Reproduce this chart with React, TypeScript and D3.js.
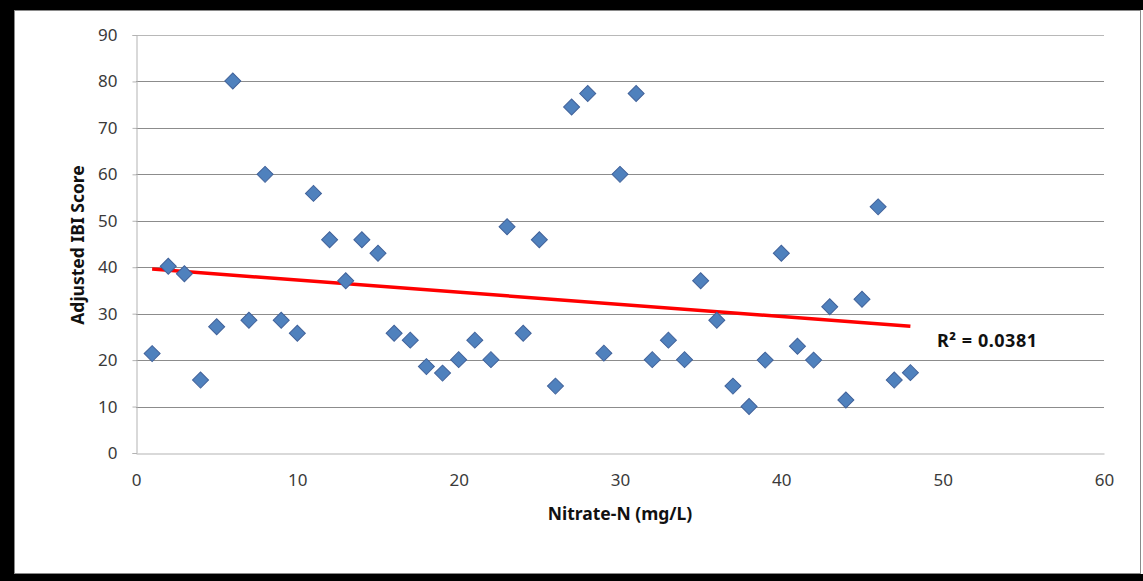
import React, { useEffect, useRef } from 'react';
import * as d3 from 'd3';

// sample index (Nitrate-N axis) and adjusted IBI score
const nitrate = [
  1, 2, 3, 4, 5, 6, 7, 8, 9, 10, 11, 12, 13, 14, 15, 16,
  17, 18, 19, 20, 21, 22, 23, 24, 25, 26, 27, 28, 29, 30, 31, 32,
  33, 34, 35, 36, 37, 38, 39, 40, 41, 42, 43, 44, 45, 46, 47, 48,
];
const ibiScore = [
  21.4, 40.2, 38.6, 15.7, 27.2, 80.1, 28.6, 60.0, 28.6, 25.8, 55.9, 45.9, 37.1, 45.9, 43.0, 25.8,
  24.3, 18.6, 17.2, 20.1, 24.3, 20.1, 48.7, 25.8, 45.9, 14.4, 74.5, 77.4, 21.5, 60.0, 77.4, 20.1,
  24.3, 20.1, 37.1, 28.6, 14.4, 10.0, 20.0, 43.0, 23.0, 20.0, 31.5, 11.4, 33.1, 53.0, 15.7, 17.3,
];
// linear trend line endpoints as drawn
const trendX = [1, 48];
const trendY = [39.6, 27.3];
const xTicks = [0, 10, 20, 30, 40, 50, 60];
const yTicks = [0, 10, 20, 30, 40, 50, 60, 70, 80, 90];
const rSquared = 'R² = 0.0381';

const W = 1143;
const H = 581;
const PLOT = { left: 136, right: 1104, top: 35, bottom: 453 };
const FONT = '"Noto Sans", "Open Sans", sans-serif';

const App: React.FC = () => {
  const svgRef = useRef<SVGSVGElement>(null);

  useEffect(() => {
    if (!svgRef.current) return;
    const svg = d3.select(svgRef.current);
    svg.selectAll('*').remove();

    // frame
    svg.append('rect').attr('width', W).attr('height', H).attr('fill', '#fff');
    svg.append('rect').attr('x', 0).attr('y', 0).attr('width', W).attr('height', 10).attr('fill', '#000');
    svg.append('rect').attr('x', 0).attr('y', 0).attr('width', 14).attr('height', H).attr('fill', '#000');
    svg.append('rect').attr('x', 0).attr('y', 574).attr('width', W).attr('height', 7).attr('fill', '#000');
    svg.append('rect')
      .attr('x', 14.5).attr('y', 10.5).attr('width', 1126).attr('height', 563)
      .attr('fill', 'none').attr('stroke', '#8a8a8a').attr('stroke-width', 1);

    const x = d3.scaleLinear().domain([0, 60]).range([PLOT.left, PLOT.right]);
    const y = d3.scaleLinear().domain([0, 90]).range([PLOT.bottom, PLOT.top]);

    // gridlines
    svg.append('g').selectAll('line').data(yTicks.filter(d => d > 0)).enter()
      .append('line')
      .attr('x1', PLOT.left).attr('x2', PLOT.right)
      .attr('y1', d => Math.round(y(d)) + 0.5).attr('y2', d => Math.round(y(d)) + 0.5)
      .attr('stroke', d => d === 90 ? '#b8b8b8' : '#8c8c8c')
      .attr('stroke-width', 1);

    // axes
    const yAxis = svg.append('g')
      .attr('transform', `translate(${PLOT.left + 0.5},0)`)
      .call(d3.axisLeft(y).tickValues(yTicks).tickSize(4).tickPadding(15).tickFormat(d3.format('d')));
    yAxis.select('.domain').attr('stroke', '#b3b3b3');
    yAxis.selectAll('.tick line').attr('stroke', '#b3b3b3');
    yAxis.selectAll('text')
      .style('font-family', FONT).style('font-size', '17px').style('fill', '#3a3a3a');

    const xAxis = svg.append('g')
      .attr('transform', `translate(0,${Math.round(PLOT.bottom) + 0.5})`)
      .call(d3.axisBottom(x).tickValues(xTicks).tickSize(0).tickPadding(20).tickFormat(d3.format('d')));
    xAxis.select('.domain').attr('stroke', '#b3b3b3');
    xAxis.selectAll('text')
      .style('font-family', FONT).style('font-size', '17px').style('fill', '#3a3a3a');

    // trend line
    const line = d3.line<number>().x(d => x(trendX[d])).y(d => y(trendY[d]));
    svg.append('path')
      .attr('d', line([0, 1]))
      .attr('fill', 'none')
      .attr('stroke', '#ff0000')
      .attr('stroke-width', 3.5);

    // diamonds
    const diamond = d3.symbol().type(d3.symbolSquare).size(128);
    svg.append('g').selectAll('path').data(nitrate).enter()
      .append('path')
      .attr('d', diamond()!)
      .attr('transform', (d, i) => `translate(${x(d)},${y(ibiScore[i])}) rotate(45)`)
      .attr('fill', '#4f81bd')
      .attr('stroke', '#41629a')
      .attr('stroke-width', 1);

    // labels
    svg.append('text')
      .attr('x', 937).attr('y', 347)
      .attr('textLength', 100)
      .text(rSquared)
      .style('font-family', FONT).style('font-size', '18px').style('font-weight', 700).style('fill', '#111');

    svg.append('text')
      .attr('x', 620).attr('y', 520)
      .attr('text-anchor', 'middle')
      .text('Nitrate-N (mg/L)')
      .style('font-family', FONT).style('font-size', '17.5px').style('font-weight', 700).style('fill', '#111');

    svg.append('text')
      .attr('transform', 'rotate(-90)')
      .attr('x', -245).attr('y', 84)
      .attr('text-anchor', 'middle')
      .text('Adjusted IBI Score')
      .style('font-family', FONT).style('font-size', '17.5px').style('font-weight', 700).style('fill', '#111');
  }, []);

  return (
    <svg
      ref={svgRef}
      width={W}
      height={H}
      style={{ position: 'absolute', left: 0, top: 0, display: 'block' }}
    />
  );
};

export default App;
